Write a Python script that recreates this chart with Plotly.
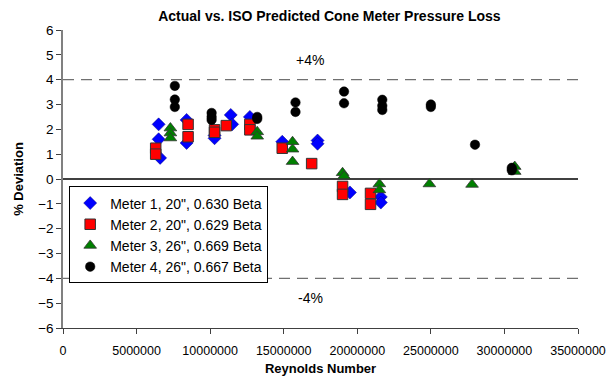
import plotly.graph_objects as go

# Reynolds numbers (millions) and % deviation per meter
m1_re = [6.5, 6.5, 6.6, 8.4, 8.4, 10.3, 10.3, 11.4, 11.5, 12.7, 14.9, 17.3, 17.3, 19.5, 21.6, 21.6]
m1_dev = [2.2, 1.6, 0.85, 2.38, 1.45, 1.75, 1.64, 2.58, 2.2, 2.5, 1.5, 1.55, 1.42, -0.54, -0.72, -0.95]

m2_re = [6.3, 6.3, 8.5, 8.5, 10.3, 10.3, 11.1, 12.7, 12.7, 14.9, 16.9, 19.0, 19.0, 20.9, 20.9]
m2_dev = [1.24, 1.0, 2.2, 1.7, 1.98, 1.88, 2.15, 2.2, 1.98, 1.24, 0.62, -0.3, -0.62, -0.58, -1.02]

m3_re = [7.3, 7.3, 7.3, 13.2, 13.2, 15.6, 15.6, 15.6, 19.0, 19.1, 21.5, 21.5, 24.9, 27.8, 30.7, 30.7]
m3_dev = [2.05, 1.85, 1.65, 1.9, 1.72, 1.5, 1.2, 0.7, 0.25, 0.12, -0.2, -0.44, -0.2, -0.22, 0.5, 0.3]

m4_re = [7.6, 7.6, 7.6, 10.1, 10.1, 10.1, 13.2, 13.2, 15.8, 15.8, 19.1, 19.1, 21.7, 21.7, 21.7, 25.0, 25.0, 28.0, 30.5, 30.5]
m4_dev = [3.75, 3.2, 2.9, 2.66, 2.5, 2.38, 2.5, 2.42, 3.08, 2.7, 3.52, 3.05, 3.19, 2.95, 2.78, 3.0, 2.9, 1.38, 0.45, 0.35]

x_ticks = [0, 5000000, 10000000, 15000000, 20000000, 25000000, 30000000, 35000000]
x_tick_labels = ["0", "5000000", "10000000", "15000000", "20000000", "25000000", "30000000", "35000000"]
y_ticks = [-6, -5, -4, -3, -2, -1, 0, 1, 2, 3, 4, 5, 6]

names = ['Meter 1, 20", 0.630 Beta', 'Meter 2, 20", 0.629 Beta',
         'Meter 3, 26", 0.669 Beta', 'Meter 4, 26", 0.667 Beta']

def scale(v):
    return [x * 1e6 for x in v]

fig = go.Figure()
fig.add_trace(go.Scatter(x=scale(m1_re), y=m1_dev, mode="markers", name=names[0],
                         marker=dict(symbol="diamond", size=10, color="#0000ff",
                                     line=dict(color="#000080", width=0.5))))
fig.add_trace(go.Scatter(x=scale(m2_re), y=m2_dev, mode="markers", name=names[1],
                         marker=dict(symbol="square", size=10.5, color="#ff0000",
                                     line=dict(color="#333333", width=1))))
fig.add_trace(go.Scatter(x=scale(m3_re), y=m3_dev, mode="markers", name=names[2],
                         marker=dict(symbol="triangle-up", size=11, color="#008000",
                                     line=dict(color="#333333", width=0.8))))
fig.add_trace(go.Scatter(x=scale(m4_re), y=m4_dev, mode="markers", name=names[3],
                         marker=dict(symbol="circle", size=9.5, color="#000000",
                                     line=dict(color="#000000", width=0.5))))

# reference lines
for yv, dash, col, w in [(4, "dash", "#707070", 1.3), (-4, "dash", "#707070", 1.3), (0, "solid", "#000000", 1.6)]:
    fig.add_shape(type="line", xref="paper", x0=0, x1=1, yref="y", y0=yv, y1=yv,
                  line=dict(color=col, width=w, dash="11px,7px" if dash == "dash" else "solid"),
                  layer="below")

fig.add_annotation(x=16.8e6, y=4.8, text="+4%", showarrow=False,
                   font=dict(family="Arial, Liberation Sans", size=14, color="#000000"))
fig.add_annotation(x=16.8e6, y=-4.8, text="-4%", showarrow=False,
                   font=dict(family="Arial, Liberation Sans", size=14, color="#000000"))

fig.update_layout(
    width=610, height=381,
    margin=dict(l=63, r=32, t=30, b=53, autoexpand=False),
    paper_bgcolor="white", plot_bgcolor="white",
    font=dict(family="Arial, Liberation Sans", size=12, color="#000000"),
    title=dict(text="<b>Actual vs. ISO Predicted Cone Meter Pressure Loss</b>",
               x=0.54, xanchor="center", y=0.957, yanchor="middle",
               font=dict(size=14)),
    showlegend=True,
    legend=dict(x=0.012, y=0.475, xanchor="left", yanchor="top",
                bgcolor="white", bordercolor="#000000", borderwidth=1,
                font=dict(size=14), itemwidth=30,
                tracegroupgap=0),
    xaxis=dict(range=[0, 35e6], tickvals=x_ticks, ticktext=x_tick_labels,
               showgrid=False, zeroline=False, showline=True, linecolor="#404040",
               linewidth=1, ticks="outside", ticklen=5, tickcolor="#404040",
               automargin=False, ticklabelstandoff=6,
               tickfont=dict(size=12.5), title=dict(text="<b>Reynolds Number</b>",
               font=dict(size=13), standoff=6)),
    yaxis=dict(range=[-6, 6], tickvals=y_ticks, showgrid=False, zeroline=False,
               showline=True, linecolor="#808080", linewidth=1.5, ticks="outside",
               ticklen=5, tickcolor="#404040", tickfont=dict(size=13.5),
               automargin=False,
               title=dict(text="<b>% Deviation</b>", font=dict(size=13), standoff=12)),
)

fig.write_html("out.html", config={"displayModeBar": False},
               post_script="document.body.style.margin='0';")
